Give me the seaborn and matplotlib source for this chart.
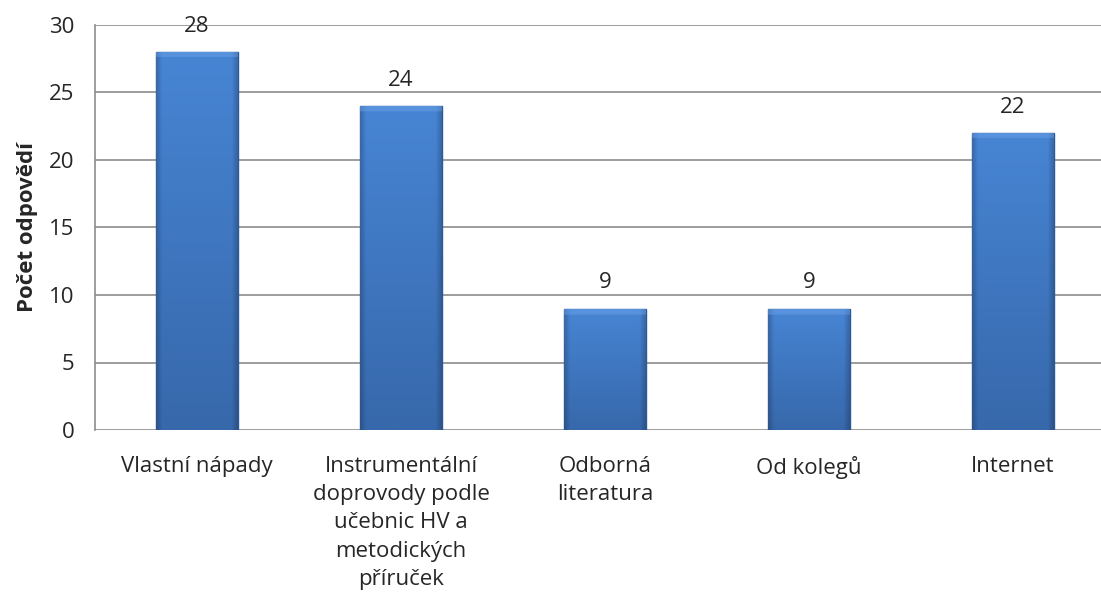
import numpy as np
import pandas as pd
import matplotlib
matplotlib.use("Agg")
import matplotlib.pyplot as plt
import seaborn as sns

categories = [
    "Vlastní nápady",
    "Instrumentální\ndoprovody podle\nučebnic HV a\nmetodických\npříruček",
    "Odborná\nliteratura",
    "Od kolegů",
    "Internet",
]
counts = [28, 24, 9, 9, 22]
y_ticks = [0, 5, 10, 15, 20, 25, 30]

df = pd.DataFrame({"kategorie": categories, "pocet": counts})

sns.set_style("white")
plt.rcParams["font.family"] = ["Open Sans", "DejaVu Sans"]

fig = plt.figure(figsize=(11.01, 6.06), dpi=100)
# axes is wider than the figure on purpose: the last category gets clipped like in the original
ax = fig.add_axes([95 / 1101, (606 - 430) / 606, 1020 / 1101, 405 / 606])

sns.barplot(data=df, x="kategorie", y="pocet", color="#3f77c0", width=0.40,
            edgecolor="#2b5896", linewidth=1.0, ax=ax, zorder=3)

ax.set_xlim(-0.5, len(categories) - 0.5)
ax.set_ylim(0, 30)
ax.set_yticks(y_ticks)
ax.yaxis.grid(True, color="#8c8c8c", linewidth=1.2, zorder=0)
ax.set_axisbelow(True)
for s in ["top", "right", "bottom"]:
    ax.spines[s].set_visible(False)
ax.spines["left"].set_color("#8c8c8c")
ax.spines["left"].set_linewidth(1.2)
ax.tick_params(axis="y", length=8, width=1.2, color="#8c8c8c", labelsize=16, pad=7)
ax.tick_params(axis="x", length=0, labelsize=16, pad=19)
for lbl in ax.get_xticklabels():
    lbl.set_linespacing(1.44)
    lbl.set_verticalalignment("top")

ax.set_xlabel("")
ax.set_ylabel("Počet odpovědí", fontsize=16, fontweight="bold", labelpad=8)

# bar shading: lighter on top, darker towards the sides (bevel-ish look)
top = np.array(matplotlib.colors.to_rgb("#4785d4"))
bottom = np.array(matplotlib.colors.to_rgb("#3768ab"))
ny, nx = 256, 64
t = np.linspace(0, 1, ny)[:, None, None]
shade = bottom + (top - bottom) * t
shade = np.repeat(shade, nx, axis=1)
u = np.linspace(0, 1, nx)
edge = np.clip(np.minimum(u, 1 - u) / 0.07, 0, 1)
shade = shade * (0.8 + 0.2 * edge)[None, :, None]

for p in ax.patches:
    x0, w, h = p.get_x(), p.get_width(), p.get_height()
    img = shade.copy()
    # light band along the top edge, about 7 px
    band = int(ny * min(1.0, 0.5 / h))
    img[-band:] = img[-band:] * 0.6 + np.array([0.45, 0.65, 0.92]) * 0.4
    im = ax.imshow(img, extent=[x0, x0 + w, 0, h], origin="lower", aspect="auto", zorder=3.5)
    im.set_clip_path(p)
    ax.annotate(f"{int(h)}", (x0 + w / 2, h), xytext=(0, 11), textcoords="offset points",
                ha="center", va="bottom", fontsize=16)

ax.set_xlim(-0.5, len(categories) - 0.5)
ax.set_ylim(0, 30)

fig.savefig("out.png", dpi=100)
